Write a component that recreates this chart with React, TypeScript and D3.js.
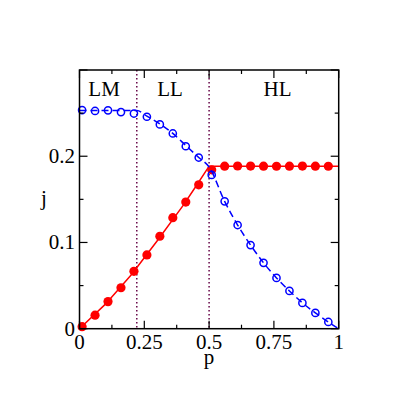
import { useEffect, useRef } from "react";
import * as d3 from "d3";

// sampled p grid for the simulation points
const simP = [0.01, 0.06, 0.11, 0.16, 0.21, 0.26, 0.31, 0.36, 0.41, 0.46,
  0.51, 0.56, 0.61, 0.66, 0.71, 0.76, 0.81, 0.86, 0.91, 0.96];
// filled red circles
const redSim = [0.0023, 0.0157, 0.0314, 0.0475, 0.0665, 0.0855, 0.1072, 0.1287, 0.1468, 0.1668,
  0.1842, 0.1885, 0.1887, 0.1886, 0.1885, 0.1884, 0.1885, 0.1886, 0.1885, 0.1884];
// open blue circles
const blueSim = [0.2535, 0.2525, 0.2532, 0.2512, 0.2495, 0.2458, 0.2369, 0.2264, 0.2116, 0.1985,
  0.1783, 0.1477, 0.1202, 0.097, 0.0764, 0.0589, 0.0438, 0.0299, 0.0183, 0.0078];

// theory curves
const redLineP = [0, 0.1, 0.2, 0.3, 0.4, 0.45, 0.5, 1];
const redLineJ = [0, 0.0285, 0.0625, 0.102, 0.143, 0.1655, 0.1885, 0.1885];
const blueLineP = [0, 0.221, 0.26, 0.31, 0.36, 0.41, 0.46, 0.5, 0.56, 0.61, 0.66, 0.71, 0.76, 0.81, 0.86, 0.91, 0.96, 1];
const blueLineJ = [0.253, 0.253, 0.2465, 0.2375, 0.2265, 0.2125, 0.1985, 0.1875, 0.1477, 0.1202, 0.097, 0.0764, 0.0589, 0.0438, 0.0299, 0.0183, 0.0078, 0];

// phase boundaries and labels
const boundaries = [0.221, 0.5];
const regionLabels = ["LM", "LL", "HL"];
const regionLabelP = [0.034, 0.3, 0.71];

const xMajor = [0, 0.25, 0.5, 0.75, 1];
const xLabels = ["0", "0.25", "0.5", "0.75", "1"];
const xMinor = [0.125, 0.375, 0.625, 0.875];
const yMajor = [0, 0.1, 0.2, 0.3];
const yLabels = ["0", "0.1", "0.2", ""];
const yMinor = [0.05, 0.15, 0.25];

const App = () => {
  const svgRef = useRef(null);

  useEffect(() => {
    const svg = d3.select(svgRef.current);
    svg.selectAll("*").remove();

    const left = 79.5, right = 338.7, top = 70, bottom = 328.7;
    const font = "Liberation Serif, DejaVu Serif, serif";

    const x = d3.scaleLinear().domain([0, 1]).range([left, right]);
    const y = d3.scaleLinear().domain([0, 0.3]).range([bottom, top]);

    // dotted phase boundaries
    boundaries.forEach((b) => {
      svg.append("line")
        .attr("x1", x(b)).attr("x2", x(b))
        .attr("y1", top).attr("y2", bottom)
        .attr("stroke", "#670748")
        .attr("stroke-width", 1.5)
        .attr("stroke-dasharray", "1.5,2.5");
    });

    // red theory line + markers
    const line = d3.line().x((d) => x(d[0])).y((d) => y(d[1]));
    svg.append("path")
      .attr("d", line(redLineP.map((p, i) => [p, redLineJ[i]])))
      .attr("fill", "none")
      .attr("stroke", "#ff0000")
      .attr("stroke-width", 1.5);

    svg.selectAll(".red")
      .data(simP)
      .enter()
      .append("circle")
      .attr("cx", (d) => x(d))
      .attr("cy", (d, i) => y(redSim[i]))
      .attr("r", 4.6)
      .attr("fill", "#ff0000");

    // blue dashed theory line + open markers
    const curve = d3.line().x((d) => x(d[0])).y((d) => y(d[1])).curve(d3.curveMonotoneX);
    svg.append("path")
      .attr("d", curve(blueLineP.map((p, i) => [p, blueLineJ[i]])))
      .attr("fill", "none")
      .attr("stroke", "#0000ff")
      .attr("stroke-width", 1.5)
      .attr("stroke-dasharray", "7,4");

    svg.selectAll(".blue")
      .data(simP)
      .enter()
      .append("circle")
      .attr("cx", (d) => x(d))
      .attr("cy", (d, i) => y(blueSim[i]))
      .attr("r", 3.6)
      .attr("fill", "none")
      .attr("stroke", "#0000ff")
      .attr("stroke-width", 1.5);

    // frame
    svg.append("rect")
      .attr("x", left).attr("y", top)
      .attr("width", right - left).attr("height", bottom - top)
      .attr("fill", "none")
      .attr("stroke", "black")
      .attr("stroke-width", 1.5);

    // ticks, inward on all sides
    const tickX = (v, len) => {
      svg.append("line").attr("x1", x(v)).attr("x2", x(v)).attr("y1", bottom).attr("y2", bottom - len).attr("stroke", "black").attr("stroke-width", 1.2);
      svg.append("line").attr("x1", x(v)).attr("x2", x(v)).attr("y1", top).attr("y2", top + len).attr("stroke", "black").attr("stroke-width", 1.2);
    };
    const tickY = (v, len) => {
      svg.append("line").attr("x1", left).attr("x2", left + len).attr("y1", y(v)).attr("y2", y(v)).attr("stroke", "black").attr("stroke-width", 1.2);
      svg.append("line").attr("x1", right).attr("x2", right - len).attr("y1", y(v)).attr("y2", y(v)).attr("stroke", "black").attr("stroke-width", 1.2);
    };
    xMajor.forEach((v) => tickX(v, 8));
    xMinor.forEach((v) => tickX(v, 4));
    yMajor.forEach((v) => tickY(v, 8));
    yMinor.forEach((v) => tickY(v, 4));

    // tick labels
    xMajor.forEach((v, i) => {
      svg.append("text")
        .attr("x", x(v)).attr("y", 348.5)
        .attr("text-anchor", "middle")
        .attr("font-family", font).attr("font-size", 21)
        .text(xLabels[i]);
    });
    yMajor.forEach((v, i) => {
      if (!yLabels[i]) return;
      svg.append("text")
        .attr("x", 75).attr("y", y(v) + 7)
        .attr("text-anchor", "end")
        .attr("font-family", font).attr("font-size", 21)
        .text(yLabels[i]);
    });

    // axis titles
    svg.append("text")
      .attr("x", x(0.5)).attr("y", 364)
      .attr("text-anchor", "middle")
      .attr("font-family", font).attr("font-size", 21)
      .text("p");
    svg.append("text")
      .attr("x", 44).attr("y", 204.5)
      .attr("text-anchor", "middle")
      .attr("font-family", font).attr("font-size", 21)
      .text("j");

    // region labels
    regionLabels.forEach((lab, i) => {
      svg.append("text")
        .attr("x", x(regionLabelP[i])).attr("y", 95.7)
        .attr("font-family", font).attr("font-size", 21)
        .text(lab);
    });
  }, []);

  return (
    <svg ref={svgRef} width={399} height={409}
      style={{ position: "absolute", left: 0, top: 0, background: "white" }}></svg>
  );
};

export default App;
